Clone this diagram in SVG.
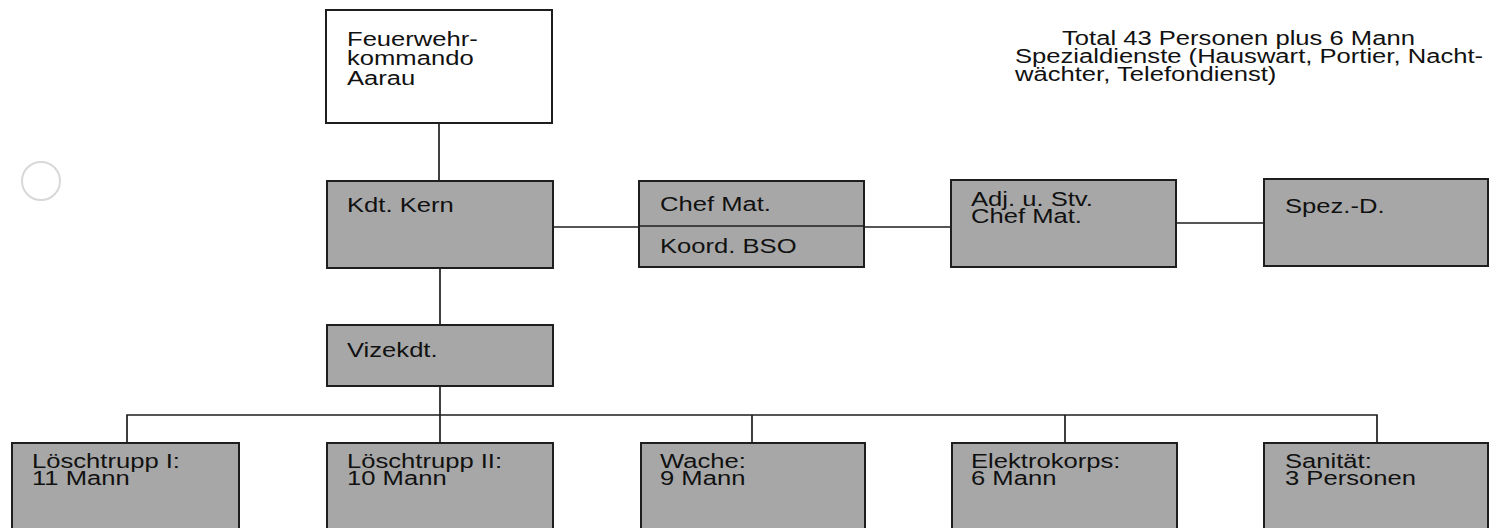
<svg xmlns="http://www.w3.org/2000/svg" width="1491" height="528" viewBox="0 0 1491 528">
<style>
.box{fill:#a7a7a7;stroke:#1e1e1e;stroke-width:2}
.wbox{fill:#ffffff;stroke:#1e1e1e;stroke-width:2}
.t{font-family:"Liberation Sans",Arial,sans-serif;font-size:20px;fill:#111}
.c{fill:none;stroke:#1e1e1e;stroke-width:1.7}
</style>
<rect width="1491" height="528" fill="#ffffff"/>
<circle cx="41" cy="181" r="19" fill="none" stroke="#d8d8d8" stroke-width="2"/>
<g id="connectors">
<path class="c" d="M439 123V181"/>
<path class="c" d="M440 268V325"/>
<path class="c" d="M553 227H951"/>
<path class="c" d="M1176 223H1264"/>
<path class="c" d="M440 386V415"/>
<path class="c" d="M127 443V415H1377V443"/>
<path class="c" d="M440 415V443"/>
<path class="c" d="M752 415V443"/>
<path class="c" d="M1065 415V443"/>
</g>
<g id="feuerwehrkommando">
<rect class="wbox" x="326" y="10" width="226" height="113"/>
<text class="t" transform="translate(347 46) scale(1.28 1)">Feuerwehr-</text>
<text class="t" transform="translate(347 65) scale(1.28 1)">kommando</text>
<text class="t" transform="translate(347 85) scale(1.28 1)">Aarau</text>
</g>
<g id="kdt">
<rect class="box" x="327" y="181" width="226" height="87"/>
<text class="t" transform="translate(347 212) scale(1.28 1)">Kdt. Kern</text>
</g>
<g id="chefmat">
<rect class="box" x="639" y="181" width="225" height="86"/>
<path class="c" d="M639 226H864"/>
<text class="t" transform="translate(660 211) scale(1.28 1)">Chef Mat.</text>
<text class="t" transform="translate(660 253) scale(1.28 1)">Koord. BSO</text>
</g>
<g id="adj">
<rect class="box" x="951" y="180" width="225" height="87"/>
<text class="t" transform="translate(971 206) scale(1.28 1)">Adj. u. Stv.</text>
<text class="t" transform="translate(971 223) scale(1.28 1)">Chef Mat.</text>
</g>
<g id="spez">
<rect class="box" x="1264" y="179" width="224" height="87"/>
<text class="t" transform="translate(1285 213) scale(1.28 1)">Spez.-D.</text>
</g>
<g id="vizekdt">
<rect class="box" x="327" y="325" width="226" height="61"/>
<text class="t" transform="translate(347 357) scale(1.28 1)">Vizekdt.</text>
</g>
<g id="loeschtrupp1">
<rect class="box" x="12" y="443" width="227" height="95"/>
<text class="t" transform="translate(32 468) scale(1.28 1)">Löschtrupp I:</text>
<text class="t" transform="translate(32 485) scale(1.28 1)">11 Mann</text>
</g>
<g id="loeschtrupp2">
<rect class="box" x="327" y="443" width="226" height="95"/>
<text class="t" transform="translate(347 468) scale(1.28 1)">Löschtrupp II:</text>
<text class="t" transform="translate(347 485) scale(1.28 1)">10 Mann</text>
</g>
<g id="wache">
<rect class="box" x="641" y="443" width="224" height="95"/>
<text class="t" transform="translate(660 468) scale(1.28 1)">Wache:</text>
<text class="t" transform="translate(660 485) scale(1.28 1)">9 Mann</text>
</g>
<g id="elektrokorps">
<rect class="box" x="952" y="443" width="225" height="95"/>
<text class="t" transform="translate(971 468) scale(1.28 1)">Elektrokorps:</text>
<text class="t" transform="translate(971 485) scale(1.28 1)">6 Mann</text>
</g>
<g id="sanitaet">
<rect class="box" x="1264" y="443" width="224" height="95"/>
<text class="t" transform="translate(1285 468) scale(1.28 1)">Sanität:</text>
<text class="t" transform="translate(1285 485) scale(1.28 1)">3 Personen</text>
</g>
<g id="note">
<text class="t" transform="translate(1062 45) scale(1.28 1)">Total 43 Personen plus 6 Mann</text>
<text class="t" transform="translate(1015 63) scale(1.28 1)">Spezialdienste (Hauswart, Portier, Nacht-</text>
<text class="t" transform="translate(1015 81) scale(1.28 1)">wächter, Telefondienst)</text>
</g>
</svg>
